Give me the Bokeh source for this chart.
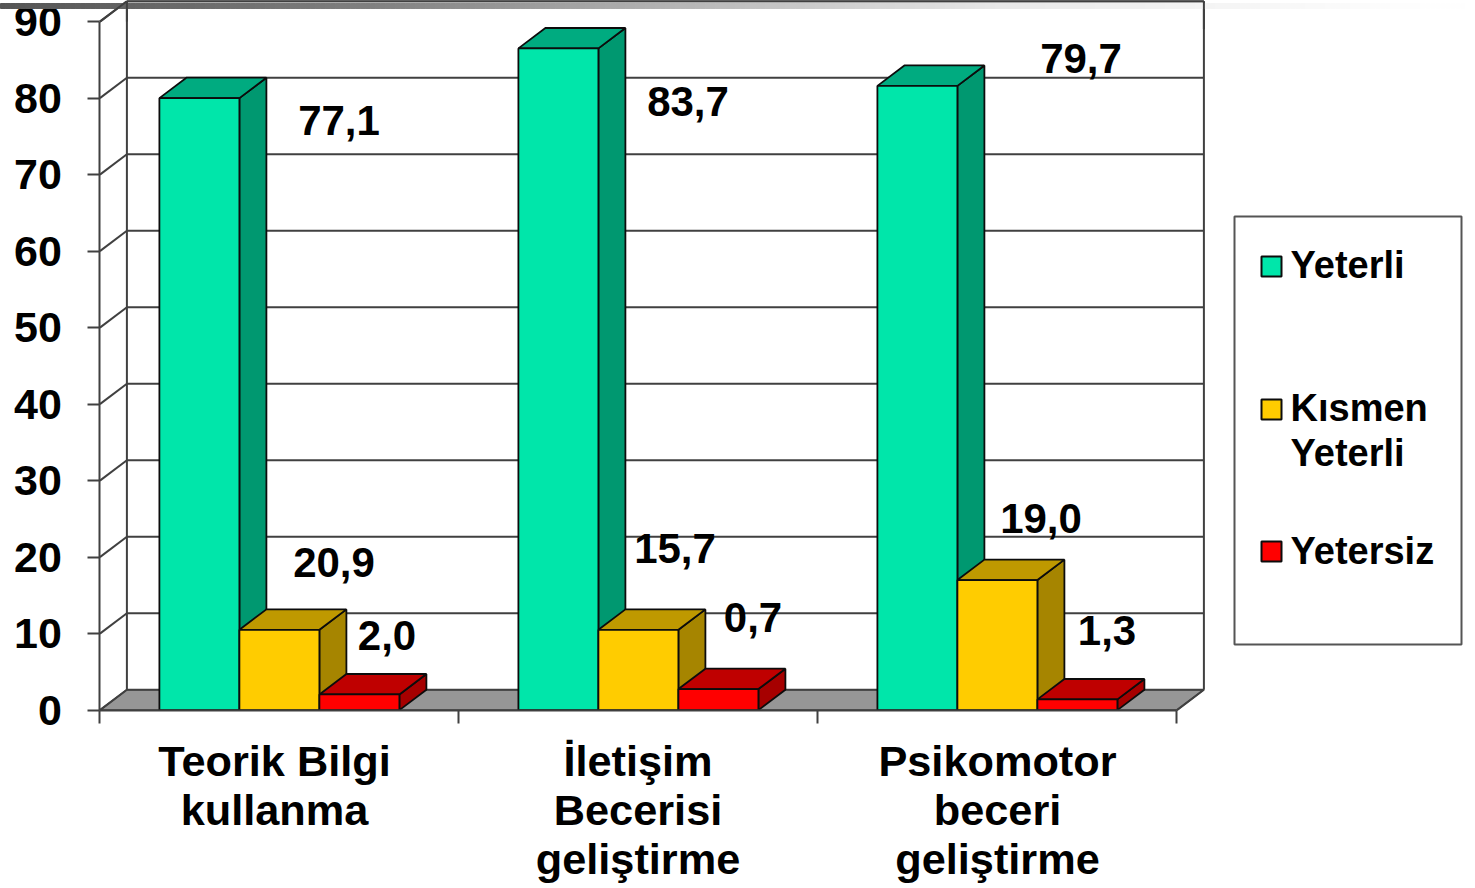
from bokeh.plotting import figure
from bokeh.embed import file_html
from bokeh.resources import INLINE
from bokeh.core.properties import value
from bokeh.models import Range1d, FixedTicker

# ---- data ----
categories = ["Teorik Bilgi\nkullanma", "İletişim\nBecerisi\ngeliştirme", "Psikomotor\nbeceri\ngeliştirme"]
series_names = ["Yeterli", "Kısmen Yeterli", "Yetersiz"]
yeterli_heights = [80.0, 86.5, 81.6]
kismen_heights = [10.5, 10.5, 17.0]
yetersiz_heights = [2.05, 2.75, 1.4]
yeterli_labels = ["77,1", "83,7", "79,7"]
kismen_labels = ["20,9", "15,7", "19,0"]
yetersiz_labels = ["2,0", "0,7", "1,3"]
y_ticks = list(range(0, 100, 10))

# ---- layout (pixels of the page) ----
W, H = 1475, 888
LEFT, ZERO = 99.4, 709.6
PX_CAT, PX_VAL = 359, 7.65
def X(px): return (px - LEFT) / PX_CAT
def Y(py): return (ZERO - py) / PX_VAL
DX, DY = 27 / PX_CAT, 20.4 / PX_VAL
BAR_W = 80 / PX_CAT
BAR_GAP = 59.5 / PX_CAT
label_xy = [[(338.5, 120), (687.5, 101), (1080.5, 58)],
            [(333.5, 562), (674.5, 548), (1040.5, 518)],
            [(386.5, 635), (752.5, 617), (1106.5, 630)]]
cat_label_px = [274, 637.5, 997]
FONT = "Liberation Sans"
INK = "#404040"
EDGE = "#0c0c0c"
front = ["#00E6AA", "#FFCC00", "#FF0000"]
top = ["#00AB80", "#BF9900", "#BF0000"]
side = ["#009870", "#A68500", "#A60000"]

p = figure(width=W, height=H, output_backend="svg", toolbar_location=None,
           x_range=Range1d(X(0), X(W)), y_range=Range1d(Y(H), Y(0)),
           min_border_left=0, min_border_bottom=0, min_border_top=0, min_border_right=0,
           frame_width=W, frame_height=H)
p.outline_line_color = None
p.grid.visible = False
p.background_fill_color = "white"

# axes, fixed at the chart's own origin inside the canvas
ya = p.yaxis[0]
ya.fixed_location = 0
ya.ticker = FixedTicker(ticks=y_ticks, minor_ticks=[])
ya.bounds = (0, 90)
ya.major_tick_in, ya.major_tick_out = 0, 12
ya.major_tick_line_color = INK
ya.major_tick_line_width = 2
ya.axis_line_color = INK
ya.axis_line_width = 2
ya.major_label_standoff = 26
ya.major_label_text_font = FONT
ya.major_label_text_font_style = "bold"
ya.major_label_text_font_size = "43px"
ya.major_label_text_color = "black"

xa = p.xaxis[0]
xa.fixed_location = 0
ticks = [X(v) for v in cat_label_px]
xa.ticker = FixedTicker(ticks=ticks, minor_ticks=[0, 1, 2, 3])
xa.major_label_overrides = dict(zip(ticks, categories))
xa.bounds = (0, 3)
xa.major_tick_in, xa.major_tick_out = 0, 0
xa.minor_tick_in, xa.minor_tick_out = 0, 13
xa.minor_tick_line_color = INK
xa.minor_tick_line_width = 2
xa.axis_line_color = INK
xa.axis_line_width = 2
xa.major_label_standoff = 14
xa.major_label_text_font = FONT
xa.major_label_text_font_style = "bold"
xa.major_label_text_font_size = "43.3px"
xa.major_label_text_color = "black"
xa.major_label_text_line_height = 1.015

# walls and floor
p.patch([0, DX, 3 + DX, 3], [0, DY, DY, 0], fill_color="#969696", line_color=INK, line_width=1.5)
p.multi_line([[DX, 3 + DX] for v in y_ticks], [[v + DY, v + DY] for v in y_ticks], line_color=INK, line_width=2)
p.multi_line([[0, DX] for v in y_ticks], [[v, v + DY] for v in y_ticks], line_color=INK, line_width=2)
p.multi_line([[DX, DX], [3 + DX, 3 + DX]], [[DY, 90 + DY], [DY, 90 + DY]], line_color=INK, line_width=2)
p.line([3, 3 + DX], [0, DY], line_color=INK, line_width=2)

# bars
for s, heights in enumerate([yeterli_heights, kismen_heights, yetersiz_heights]):
    for c, h in enumerate(heights):
        x0 = c + BAR_GAP + s * BAR_W
        x1 = x0 + BAR_W
        p.patch([x1, x1 + DX, x1 + DX, x1], [0, DY, h + DY, h], fill_color=side[s], line_color=EDGE, line_width=1.8)
        p.patch([x0, x0 + DX, x1 + DX, x1], [h, h + DY, h + DY, h], fill_color=top[s], line_color=EDGE, line_width=1.8)
        p.patch([x0, x1, x1, x0], [0, 0, h, h], fill_color=front[s], line_color=EDGE, line_width=1.8)

# value labels
for labels, coords in zip([yeterli_labels, kismen_labels, yetersiz_labels], label_xy):
    p.text([X(a) for a, b in coords], [Y(b) for a, b in coords], text=labels,
           text_font=value(FONT), text_font_style="bold", text_font_size="42px",
           text_color="black", text_align="center", text_baseline="middle")

# legend box
p.quad(left=X(1234), right=X(1461), top=Y(216), bottom=Y(644), fill_color="white", line_color="#555555", line_width=2)
swatch_py = [266, 409, 551]
p.quad(left=[X(1261)] * 3, right=[X(1281)] * 3, top=[Y(v - 10) for v in swatch_py],
       bottom=[Y(v + 10) for v in swatch_py], fill_color=front, line_color=EDGE, line_width=2)
first, second = series_names[1].split(" ")
legend_text = [series_names[0], first, second, series_names[2]]
legend_py = [264, 407, 452, 550]
p.text([X(1290)] * 4, [Y(v) for v in legend_py], text=legend_text,
       text_font=value(FONT), text_font_style="bold", text_font_size="38px",
       text_color="black", text_align="left", text_baseline="middle")

# header band of the slide, fading to white, above the clipped "90"
stops = [(0, 85), (370, 128), (740, 192), (1000, 232), (1203, 244), (1400, 253), (1480, 255)]
band_x, band_c = [], []
step = 5
for a in range(0, W, step):
    for (x0, g0), (x1, g1) in zip(stops, stops[1:]):
        if x0 <= a < x1:
            g = round(g0 + (g1 - g0) * (a - x0) / (x1 - x0))
            break
    band_x.append(a)
    band_c.append(f"#{g:02x}{g:02x}{g:02x}")
p.quad(left=[X(a) for a in band_x], right=[X(a + step) for a in band_x],
       top=Y(3), bottom=Y(8), fill_color=band_c, line_color=band_c, line_width=1, level="overlay")
# top of the wall stays visible over the band
p.multi_line([[0, DX], [DX, 3 + DX], [DX, DX], [3 + DX, 3 + DX]],
             [[90, 90 + DY], [90 + DY, 90 + DY], [90, 90 + DY], [89, 90 + DY]],
             line_color=INK, line_width=2, level="overlay")

open("out.html", "w").write(file_html(p, INLINE))
